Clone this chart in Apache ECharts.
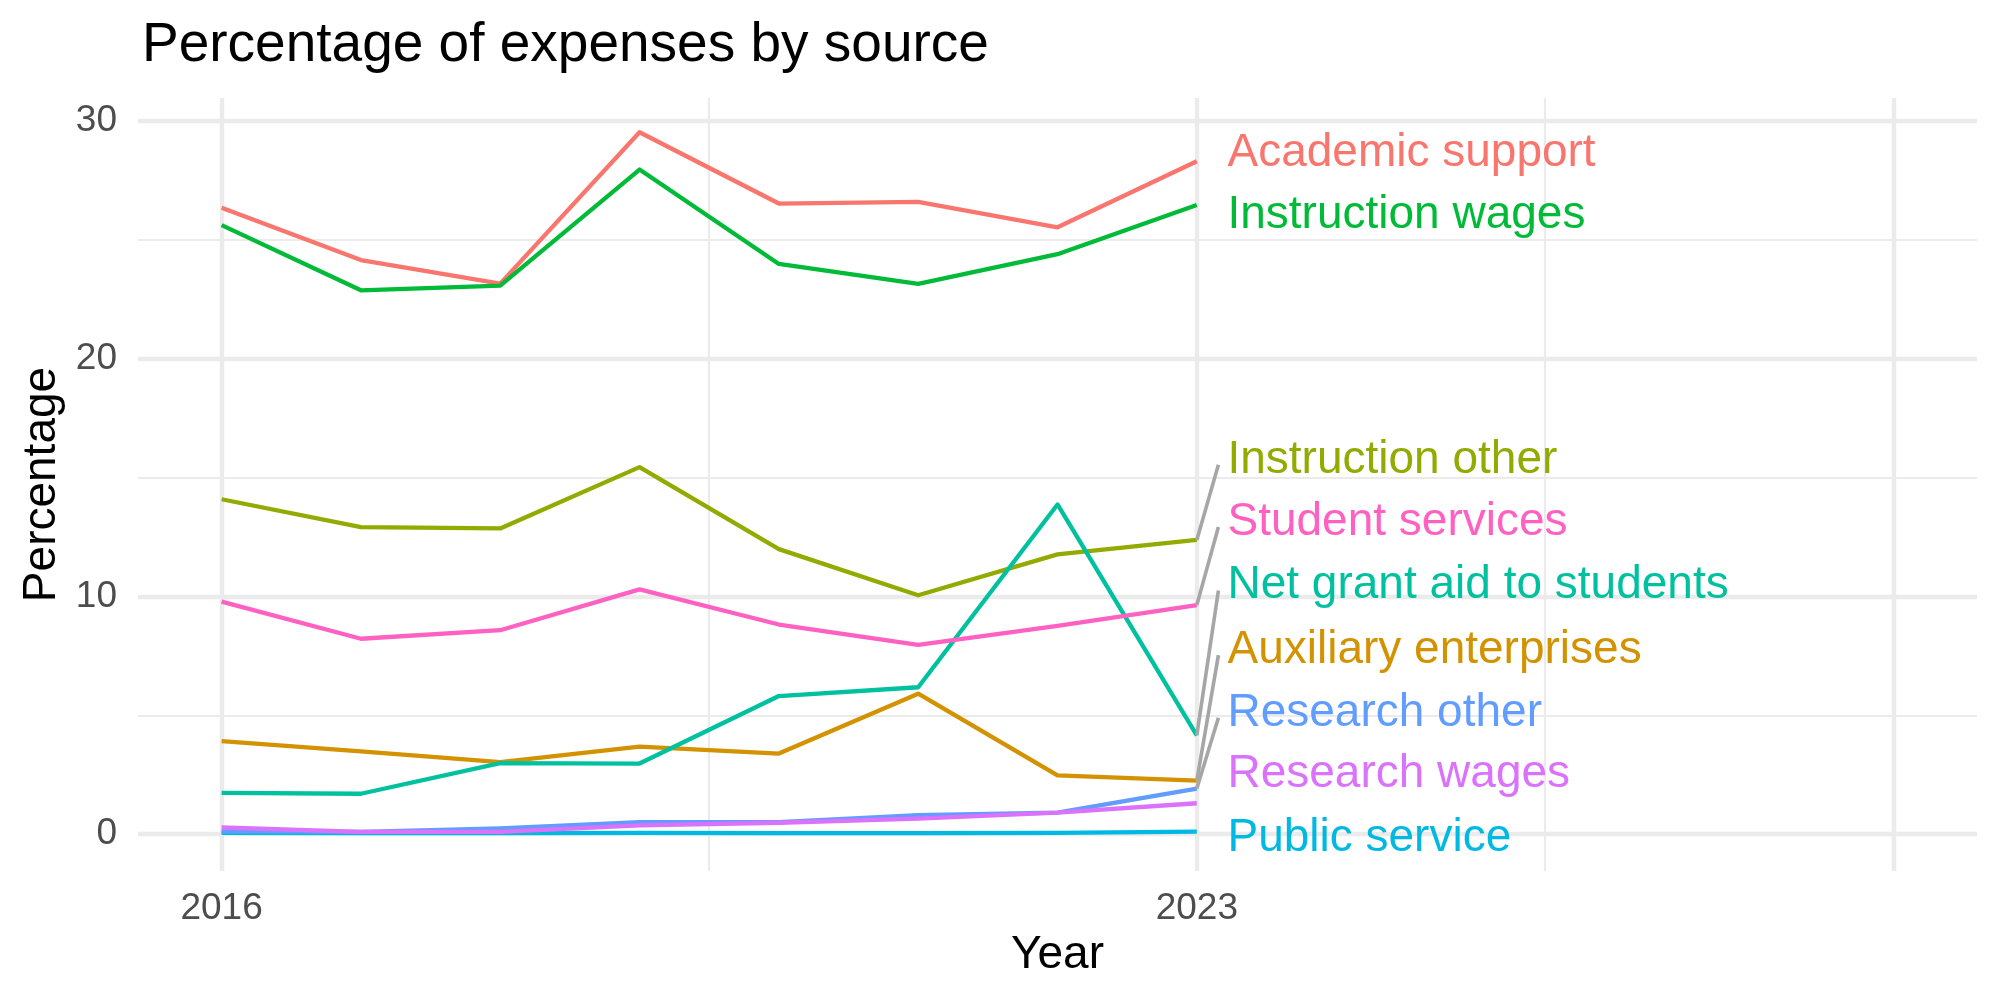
<!DOCTYPE html>
<html>
<head>
<meta charset="utf-8">
<title>Percentage of expenses by source</title>
<script src="https://cdn.jsdelivr.net/npm/echarts@6/dist/echarts.min.js"></script>
<style>
  html, body { margin: 0; padding: 0; background: #ffffff; }
  #chart { width: 2000px; height: 1000px; }
</style>
</head>
<body>
<div id="chart"></div>
<script>
// data
var years = [2016, 2017, 2018, 2019, 2020, 2021, 2022, 2023];
var names = ['Academic support', 'Instruction wages', 'Instruction other', 'Student services',
             'Net grant aid to students', 'Auxiliary enterprises', 'Research other',
             'Research wages', 'Public service'];
var academicSupport  = [26.35, 24.15, 23.16, 29.53, 26.53, 26.60, 25.53, 28.31];
var instructionWages = [25.62, 22.88, 23.08, 27.96, 23.99, 23.15, 24.40, 26.47];
var instructionOther = [14.09, 12.92, 12.86, 15.44, 11.99, 10.05, 11.77, 12.38];
var studentServices  = [9.78, 8.22, 8.58, 10.30, 8.82, 7.96, 8.76, 9.64];
var netGrantAid      = [1.74, 1.70, 2.99, 2.97, 5.81, 6.18, 13.87, 4.16];
var auxiliary        = [3.91, 3.48, 3.03, 3.68, 3.39, 5.91, 2.47, 2.25];
var researchOther    = [0.12, 0.10, 0.24, 0.50, 0.50, 0.80, 0.91, 1.92];
var researchWages    = [0.28, 0.10, 0.10, 0.37, 0.48, 0.65, 0.91, 1.30];
var publicService    = [0.05, 0.04, 0.04, 0.05, 0.04, 0.04, 0.05, 0.11];
var values = [academicSupport, instructionWages, instructionOther, studentServices,
              netGrantAid, auxiliary, researchOther, researchWages, publicService];
var xTicks = [2016, 2023];
var yTicks = [0, 10, 20, 30];

// layout: where the repelled labels sit (data units)
var labelY = [28.63, 26.02, 15.74, 13.12, 10.45, 7.73, 5.10, 2.50, -0.18];
var LABEL_X = 2023.22;
var SEG_END_X = 2023.155;

var colors = ['#F8766D', '#00BA38', '#93AA00', '#FF61C3', '#00C19F',
              '#D39200', '#619CFF', '#DB72FB', '#00B9E3'];

var chart = echarts.init(document.getElementById('chart'));

var series = [];

// background grid lines (markLine z defaults above the series, so push it down)
series.push({
  name: 'grid',
  type: 'line',
  data: [],
  z: 0,
  silent: true,
  markLine: {
    z: 0,
    silent: true,
    symbol: 'none',
    animation: false,
    label: { show: false },
    data: [
      { xAxis: 2016, lineStyle: { width: 4.4 } },
      { xAxis: 2019.5, lineStyle: { width: 2.2 } },
      { xAxis: 2023, lineStyle: { width: 4.4 } },
      { xAxis: 2025.5, lineStyle: { width: 2.2 } },
      { xAxis: 2028, lineStyle: { width: 4.4 } },
      { yAxis: 0, lineStyle: { width: 4.4 } },
      { yAxis: 5, lineStyle: { width: 2.2 } },
      { yAxis: 10, lineStyle: { width: 4.4 } },
      { yAxis: 15, lineStyle: { width: 2.2 } },
      { yAxis: 20, lineStyle: { width: 4.4 } },
      { yAxis: 25, lineStyle: { width: 2.2 } },
      { yAxis: 30, lineStyle: { width: 4.4 } }
    ],
    lineStyle: { color: '#EBEBEB', type: 'solid' }
  }
});

// alphabetical drawing order, like the original plot
var order = names.map(function (n, idx) { return idx; })
  .sort(function (a, b) { return names[a] < names[b] ? -1 : 1; });
order.forEach(function (i) {
  var pts = [];
  for (var j = 0; j < years.length; j++) pts.push([years[j], values[i][j]]);
  series.push({
    name: names[i],
    type: 'line',
    data: pts,
    symbol: 'none',
    z: 3,
    lineStyle: { color: colors[i], width: 4.3, opacity: 1, join: 'round' },
    emphasis: { disabled: true },
    animation: false
  });
});

// connector segments for labels pushed away from their line end
for (var k = 0; k < names.length; k++) {
  var last = values[k][values[k].length - 1];
  if (Math.abs(labelY[k] - last) > 1.5) {
    series.push({
      type: 'line',
      data: [[years[years.length - 1], last], [SEG_END_X, labelY[k] - 0.2]],
      symbol: 'none',
      z: 4,
      lineStyle: { color: '#A6A6A6', width: 3.6 },
      emphasis: { disabled: true },
      animation: false
    });
  }
}

// text labels
var labelData = [];
for (var m = 0; m < names.length; m++) {
  labelData.push({
    value: [LABEL_X, labelY[m]],
    name: names[m],
    label: { color: colors[m] }
  });
}
series.push({
  type: 'scatter',
  data: labelData,
  symbolSize: 0,
  z: 5,
  silent: true,
  animation: false,
  label: {
    show: true,
    position: 'right',
    distance: 0,
    formatter: function (p) { return p.name; },
    fontFamily: 'Liberation Sans',
    fontSize: 46,
    textBorderWidth: 0,
    opacity: 1
  }
});

chart.setOption({
  animation: false,
  backgroundColor: '#ffffff',
  title: {
    text: 'Percentage of expenses by source',
    left: 137,
    top: 13,
    textStyle: { fontFamily: 'Liberation Sans', fontSize: 55, fontWeight: 'normal', color: '#000000' }
  },
  grid: { left: 138, right: 23, top: 98, bottom: 129 },
  xAxis: {
    type: 'value',
    min: 2015.4,
    max: 2028.6,
    name: 'Year',
    nameLocation: 'middle',
    nameGap: 57,
    nameTextStyle: { fontFamily: 'Liberation Sans', fontSize: 46, color: '#000000' },
    axisLine: { show: false },
    axisTick: { show: false },
    splitLine: { show: false },
    axisLabel: {
      customValues: xTicks,
      margin: 19,
      fontFamily: 'Liberation Sans',
      fontSize: 37,
      color: '#4D4D4D',
      formatter: function (v) { return String(v); }
    }
  },
  yAxis: {
    type: 'value',
    min: -1.55,
    max: 30.97,
    name: 'Percentage',
    nameLocation: 'middle',
    nameGap: 69,
    nameTextStyle: { fontFamily: 'Liberation Sans', fontSize: 46, color: '#000000' },
    axisLine: { show: false },
    axisTick: { show: false },
    splitLine: { show: false },
    axisLabel: {
      customValues: yTicks,
      margin: 21,
      fontFamily: 'Liberation Sans',
      fontSize: 37,
      color: '#4D4D4D',
      formatter: function (v) { return String(v); }
    }
  },
  series: series
});
</script>
</body>
</html>
